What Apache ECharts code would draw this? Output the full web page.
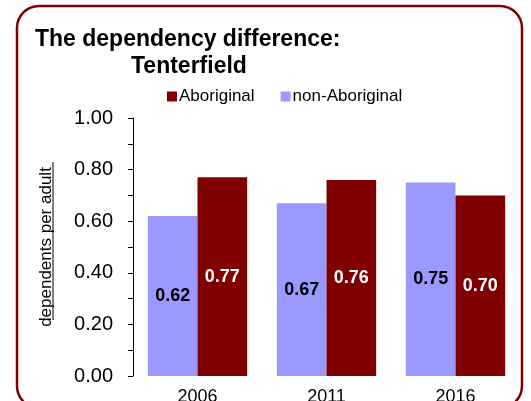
<!DOCTYPE html>
<html>
<head>
<meta charset="utf-8">
<script src="https://cdn.jsdelivr.net/npm/echarts@6/dist/echarts.min.js"></script>
<style>
  html, body { margin: 0; padding: 0; background: #fff; }
  #chart { width: 531px; height: 401px; }
</style>
</head>
<body>
<div id="chart"></div>
<script>
var years = ['2006', '2011', '2016'];
var nonAboriginal = [0.62, 0.67, 0.75];
var aboriginal = [0.77, 0.76, 0.70];

var font = 'Liberation Sans, Arial, sans-serif';

echarts.init(document.getElementById('chart')).setOption({
  animation: false,
  textStyle: { fontFamily: font },
  title: [
    { text: 'The dependency difference:', left: 30, top: 23,
      textStyle: { fontSize: 23, fontWeight: 'bold', color: '#000' } },
    { text: 'Tenterfield', left: 126, top: 50,
      textStyle: { fontSize: 23, fontWeight: 'bold', color: '#000' } }
  ],
  legend: {
    data: ['Aboriginal', 'non-Aboriginal'],
    left: 162, top: 83,
    itemWidth: 10, itemHeight: 10, itemGap: 26,
    icon: 'rect',
    textStyle: { fontSize: 17, color: '#000', padding: [0, 0, 0, -3] }
  },
  graphic: [
    { type: 'rect', shape: { x: 17, y: 6, width: 505, height: 402, r: 22 },
      style: { fill: 'none', stroke: '#7f0000', lineWidth: 2.5 } },
    { type: 'line', shape: { x1: 53, y1: 162, x2: 53, y2: 320 },
      style: { stroke: '#000', lineWidth: 1 } }
  ],
  grid: { left: 133, top: 118, right: 11, bottom: 25, outerBoundsMode: 'none' },
  xAxis: {
    type: 'category',
    data: years,
    axisLine: { show: false },
    axisTick: { show: false },
    axisLabel: { fontSize: 18, color: '#000', margin: 12 }
  },
  yAxis: {
    type: 'value',
    min: 0, max: 1, interval: 0.2,
    name: 'dependents per adult',
    nameLocation: 'middle',
    nameGap: 78,
    nameTextStyle: { fontSize: 17, color: '#000' },
    axisLine: { show: true, lineStyle: { color: '#000', width: 1 } },
    axisTick: { show: true, length: 5, lineStyle: { color: '#000' } },
    minorTick: { show: true, splitNumber: 2, length: 5, lineStyle: { color: '#000' } },
    splitLine: { show: false },
    axisLabel: { fontSize: 20, color: '#000', margin: 20,
      formatter: function (v) { return v.toFixed(2); } }
  },
  series: [
    {
      name: 'non-Aboriginal', type: 'bar', data: nonAboriginal,
      barGap: '0%', barCategoryGap: '23%',
      itemStyle: { color: '#9999ff' },
      label: { show: true, position: 'inside', fontSize: 18, fontWeight: 'bold', color: '#000',
        formatter: function (p) { return p.value.toFixed(2); } }
    },
    {
      name: 'Aboriginal', type: 'bar', data: aboriginal,
      barGap: '0%', barCategoryGap: '23%',
      itemStyle: { color: '#800000' },
      label: { show: true, position: 'inside', fontSize: 18, fontWeight: 'bold', color: '#fff',
        formatter: function (p) { return p.value.toFixed(2); } }
    }
  ]
});
</script>
</body>
</html>
